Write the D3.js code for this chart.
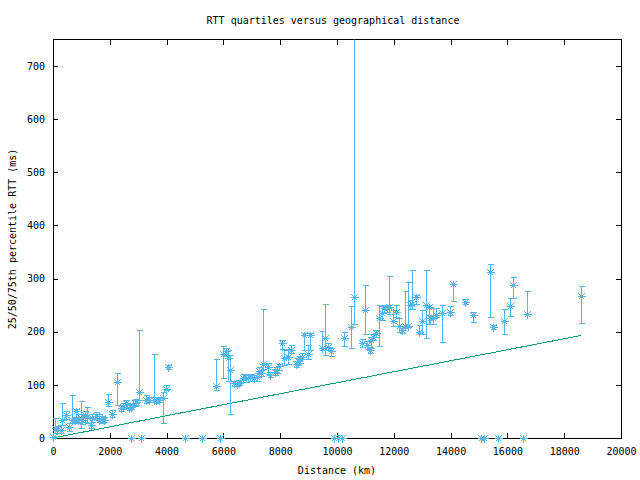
<!DOCTYPE html>
<html><head><meta charset="utf-8">
<script src="https://cdn.jsdelivr.net/npm/d3@7"></script>
<style>html,body{margin:0;padding:0;background:#fff}svg{display:block}text{font-family:"DejaVu Sans Mono",monospace;font-size:10px;fill:#000}</style>
</head><body>
<svg id="c" width="640" height="480"></svg>
<script>
// ---- data ----
const distanceKm = [0,60,150,270,330,450,560,660,760,800,890,975,1030,1120,1210,1330,1390,1500,1620,1720,1800,1950,2090,2240,2390,2470,2560,2660,2740,2740,2890,2940,3030,3110,3270,3390,3540,3620,3740,3860,3970,4060,4650,5260,5740,5870,5970,6090,6150,6240,6380,6470,6540,6680,6800,6940,7080,7170,7270,7330,7380,7560,7650,7800,7880,7970,8060,8150,8270,8390,8540,8620,8680,8770,8850,8970,9060,9480,9580,9680,9790,9890,10020,10160,10260,10480,10590,10890,10970,11050,11170,11200,11260,11360,11470,11590,11670,11750,11830,11970,12090,12200,12300,12410,12510,12560,12650,12790,12890,13000,13120,13230,13260,13380,13470,13710,13990,14080,14500,14790,15080,15160,15380,15490,15680,15880,16080,16200,16560,16700,18600];
const rttMedian = [1,18,15,15,34,43,20,34,34,50,34,37,34,43,40,24,37,41,34,37,34,68,46,105,56,59,66,56,0,59,65,68,87,0,72,72,72,72,72,75,93,134,0,0,98,0,159,164,150,128,103,102,104,112,112,114,113,115,127,122,139,134,119,125,128,135,179,150,153,166,139,144,148,153,194,158,194,169,188,171,164,0,0,0,188,208,266,179,241,175,166,184,191,197,225,235,244,244,247,221,238,211,203,211,210,250,253,265,200,221,250,246,225,225,231,235,238,290,256,231,0,0,312,209,0,220,248,288,0,233,267];
const rttQ25 = [0,9,10,10,24,35,14,28,28,30,28,18,26,30,28,18,30,35,30,28,30,61,40,62,50,54,58,52,0,55,60,62,71,0,66,68,68,66,68,28,90,130,0,0,91,0,113,155,107,46,98,97,100,105,106,108,107,108,120,116,129,120,115,118,122,128,167,138,140,160,133,138,142,148,166,148,166,166,156,165,155,0,0,0,174,169,215,172,195,168,160,170,185,190,174,222,238,238,233,210,228,200,198,209,208,242,242,252,196,196,188,215,215,215,228,181,232,257,252,218,0,0,227,206,0,195,229,264,0,233,216];
const rttQ75 = [4,37,22,25,65,50,28,81,40,55,45,70,45,50,58,35,45,48,45,42,40,83,52,122,62,66,72,62,0,64,72,74,203,0,80,78,159,78,78,87,100,138,0,0,149,0,173,170,165,156,108,108,110,120,118,120,118,122,133,128,242,142,125,130,134,140,185,165,168,175,145,150,154,160,198,175,198,201,252,178,170,0,0,0,199,248,800,186,288,182,172,190,196,203,250,248,250,250,304,240,250,225,210,276,293,260,317,270,212,240,317,247,232,245,245,250,248,290,261,237,0,0,327,213,0,242,263,303,0,276,287];
const refDistanceKm = [0,4000,10000,18600];
const refRtt = [0,42,104,193];
const xTicks = [0,2000,4000,6000,8000,10000,12000,14000,16000,18000,20000];
const yTicks = [0,100,200,300,400,500,600,700];
const titleText = "RTT quartiles versus geographical distance";
const xLabel = "Distance (km)";
const yLabel = "25/50/75th percentile RTT (ms)";

// ---- layout ----
const L = 53, R = 621, T = 39.5, B = 438;
const ptColor = "#56b4e9", lineColor = "#009e73";
const svg = d3.select("#c");
const x = d3.scaleLinear().domain([0,20000]).range([L,R]);
const y = d3.scaleLinear().domain([0,750]).range([B,T]);

svg.append("defs").append("clipPath").attr("id","clip")
  .append("rect").attr("x",L).attr("y",T).attr("width",R-L).attr("height",480-T);

const tickLen = 5;
const ax = svg.append("g").attr("shape-rendering","crispEdges");
ax.append("g").attr("transform",`translate(0,${B})`)
  .call(d3.axisBottom(x).tickValues(xTicks).tickFormat(d3.format("d")).tickSizeInner(-tickLen).tickSizeOuter(0).tickPadding(10));
ax.append("g").attr("transform",`translate(0,${T})`)
  .call(d3.axisTop(x).tickValues(xTicks).tickFormat("").tickSizeInner(-tickLen).tickSizeOuter(0));
ax.append("g").attr("transform",`translate(${L},0)`)
  .call(d3.axisLeft(y).tickValues(yTicks).tickFormat(d3.format("d")).tickSizeInner(-tickLen).tickSizeOuter(0).tickPadding(8));
ax.append("g").attr("transform",`translate(${R},0)`)
  .call(d3.axisRight(y).tickValues(yTicks).tickFormat("").tickSizeInner(-tickLen).tickSizeOuter(0));
ax.selectAll(".domain").remove();
ax.selectAll(".tick line").attr("stroke","#000");
ax.selectAll("text").attr("font-family",null).attr("font-size",null).attr("fill","#000");
ax.append("rect").attr("x",L).attr("y",T).attr("width",R-L).attr("height",B-T)
  .attr("fill","none").attr("stroke","#000");

// reference line
svg.append("path").datum(refDistanceKm.map((d,i)=>[d,refRtt[i]]))
  .attr("d", d3.line().x(d=>x(d[0])).y(d=>y(d[1])))
  .attr("fill","none").attr("stroke",lineColor).attr("stroke-width",1).attr("shape-rendering","crispEdges");

// error bars
const pts = distanceKm.map((d,i)=>({d, m:rttMedian[i], lo:rttQ25[i], hi:rttQ75[i]}));
const eb = svg.append("g").attr("clip-path","url(#clip)").attr("stroke",ptColor).attr("stroke-width",1).attr("shape-rendering","crispEdges");
eb.selectAll("path").data(pts).join("path")
  .attr("d", p => {
    const px = Math.round(x(p.d)) + 0.5, y1 = Math.round(y(p.lo)) + 0.5, y2 = Math.round(y(p.hi)) + 0.5, c = 3;
    return `M${px},${y1}V${y2}M${px-c},${y1}H${px+c}M${px-c},${y2}H${px+c}`;
  }).attr("fill","none");

// star points
const star = "M-4,0H4M0,-4V4M-3,-3L3,3M-3,3L3,-3";
svg.append("g").attr("stroke",ptColor).attr("stroke-width",1).attr("shape-rendering","crispEdges")
  .selectAll("path").data(pts).join("path")
  .attr("transform", p => `translate(${Math.round(x(p.d))+0.5},${Math.round(y(p.m))+0.5})`)
  .attr("d", star).attr("fill","none");

// labels
svg.append("text").attr("x",333).attr("y",24).attr("text-anchor","middle").text(titleText);
svg.append("text").attr("x",337).attr("y",474).attr("text-anchor","middle").text(xLabel);
svg.append("text").attr("transform","translate(16,239) rotate(-90)").attr("text-anchor","middle").text(yLabel);
</script>
</body></html>
